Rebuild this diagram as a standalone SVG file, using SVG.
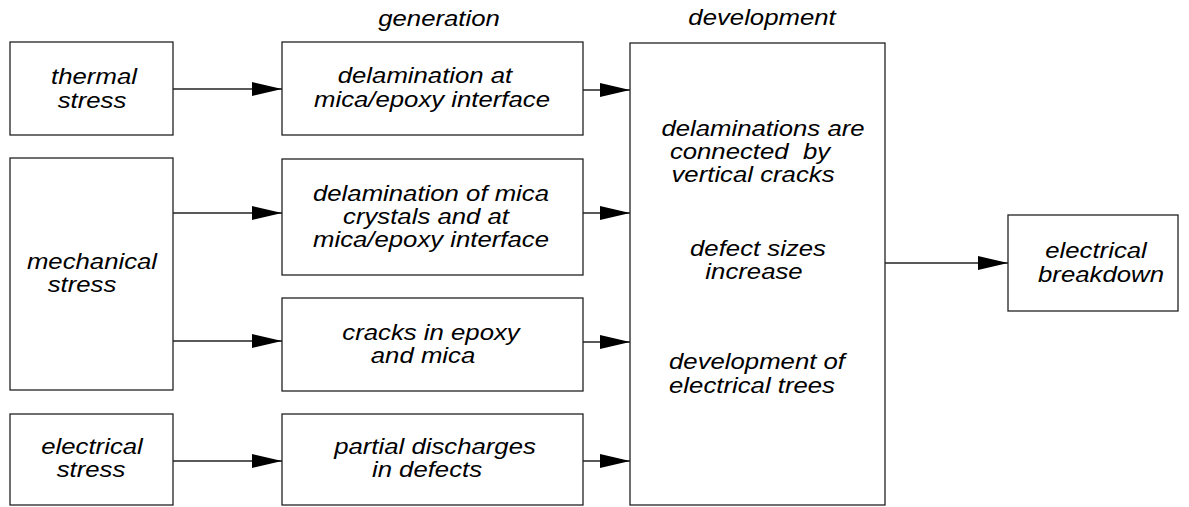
<svg xmlns="http://www.w3.org/2000/svg" width="1189" height="507" viewBox="0 0 1189 507">
<style>
.box{fill:#fff;stroke:#222;stroke-width:1.3}
.t{font-family:"Liberation Sans",Arial,sans-serif;font-style:italic;font-size:22px;fill:#000;text-anchor:middle}
.c{stroke:#222;stroke-width:1.3;fill:none;marker-end:url(#ah)}
</style>
<defs>
<marker id="ah" viewBox="0 0 30 14" refX="30" refY="7" markerWidth="30" markerHeight="14" markerUnits="userSpaceOnUse" orient="auto">
<path d="M0,0 L30,7 L0,14 z" fill="#000"/>
</marker>
</defs>
<rect width="1189" height="507" fill="#fff"/>
<g id="labels">
<text class="t" transform="translate(439,26) scale(1.17,1)">generation</text>
<text class="t" transform="translate(762,25) scale(1.17,1)">development</text>
</g>
<g id="thermal">
<rect class="box" x="10" y="42" width="163" height="93"/>
<text class="t" transform="translate(94,84) scale(1.17,1)">thermal</text>
<text class="t" transform="translate(92,108) scale(1.17,1)">stress</text>
</g>
<g id="gen1">
<rect class="box" x="282" y="42" width="301" height="93"/>
<text class="t" transform="translate(425,83) scale(1.17,1)">delamination at</text>
<text class="t" transform="translate(432,107) scale(1.17,1)">mica/epoxy interface</text>
</g>
<g id="mechanical">
<rect class="box" x="10" y="158" width="163" height="232"/>
<text class="t" transform="translate(92,269) scale(1.17,1)">mechanical</text>
<text class="t" transform="translate(82,292) scale(1.17,1)">stress</text>
</g>
<g id="gen2">
<rect class="box" x="282" y="159" width="301" height="116"/>
<text class="t" transform="translate(431,201) scale(1.17,1)">delamination of mica</text>
<text class="t" transform="translate(426,224) scale(1.17,1)">crystals and at</text>
<text class="t" transform="translate(431,247) scale(1.17,1)">mica/epoxy interface</text>
</g>
<g id="gen3">
<rect class="box" x="282" y="298" width="301" height="93"/>
<text class="t" transform="translate(431,340) scale(1.17,1)">cracks in epoxy</text>
<text class="t" transform="translate(423,363) scale(1.17,1)">and mica</text>
</g>
<g id="electrical">
<rect class="box" x="10" y="414" width="163" height="91"/>
<text class="t" transform="translate(92,454) scale(1.17,1)">electrical</text>
<text class="t" transform="translate(91,477) scale(1.17,1)">stress</text>
</g>
<g id="gen4">
<rect class="box" x="282" y="414" width="301" height="91"/>
<text class="t" transform="translate(435,454) scale(1.17,1)">partial discharges</text>
<text class="t" transform="translate(427,477) scale(1.17,1)">in defects</text>
</g>
<g id="dev">
<rect class="box" x="630" y="43" width="255" height="462"/>
<text class="t" transform="translate(763,136) scale(1.17,1)">delaminations are</text>
<text class="t" transform="translate(750,159) scale(1.17,1)" xml:space="preserve">connected  by</text>
<text class="t" transform="translate(753,182) scale(1.17,1)">vertical cracks</text>
<text class="t" transform="translate(758,256) scale(1.17,1)">defect sizes</text>
<text class="t" transform="translate(754,279) scale(1.17,1)">increase</text>
<text class="t" transform="translate(757,369) scale(1.17,1)">development of</text>
<text class="t" transform="translate(752,393) scale(1.17,1)">electrical trees</text>
</g>
<g id="breakdown">
<rect class="box" x="1008" y="215" width="170" height="96"/>
<text class="t" transform="translate(1096,258) scale(1.17,1)">electrical</text>
<text class="t" transform="translate(1101,282) scale(1.17,1)">breakdown</text>
</g>
<g id="connectors">
<line class="c" x1="173" y1="89" x2="282" y2="89"/>
<line class="c" x1="583" y1="90" x2="630" y2="90"/>
<line class="c" x1="173" y1="213" x2="282" y2="213"/>
<line class="c" x1="583" y1="213" x2="630" y2="213"/>
<line class="c" x1="173" y1="341" x2="282" y2="341"/>
<line class="c" x1="583" y1="342" x2="630" y2="342"/>
<line class="c" x1="173" y1="461" x2="282" y2="461"/>
<line class="c" x1="583" y1="461" x2="630" y2="461"/>
<line class="c" x1="885" y1="263" x2="1008" y2="263"/>
</g>
</svg>
